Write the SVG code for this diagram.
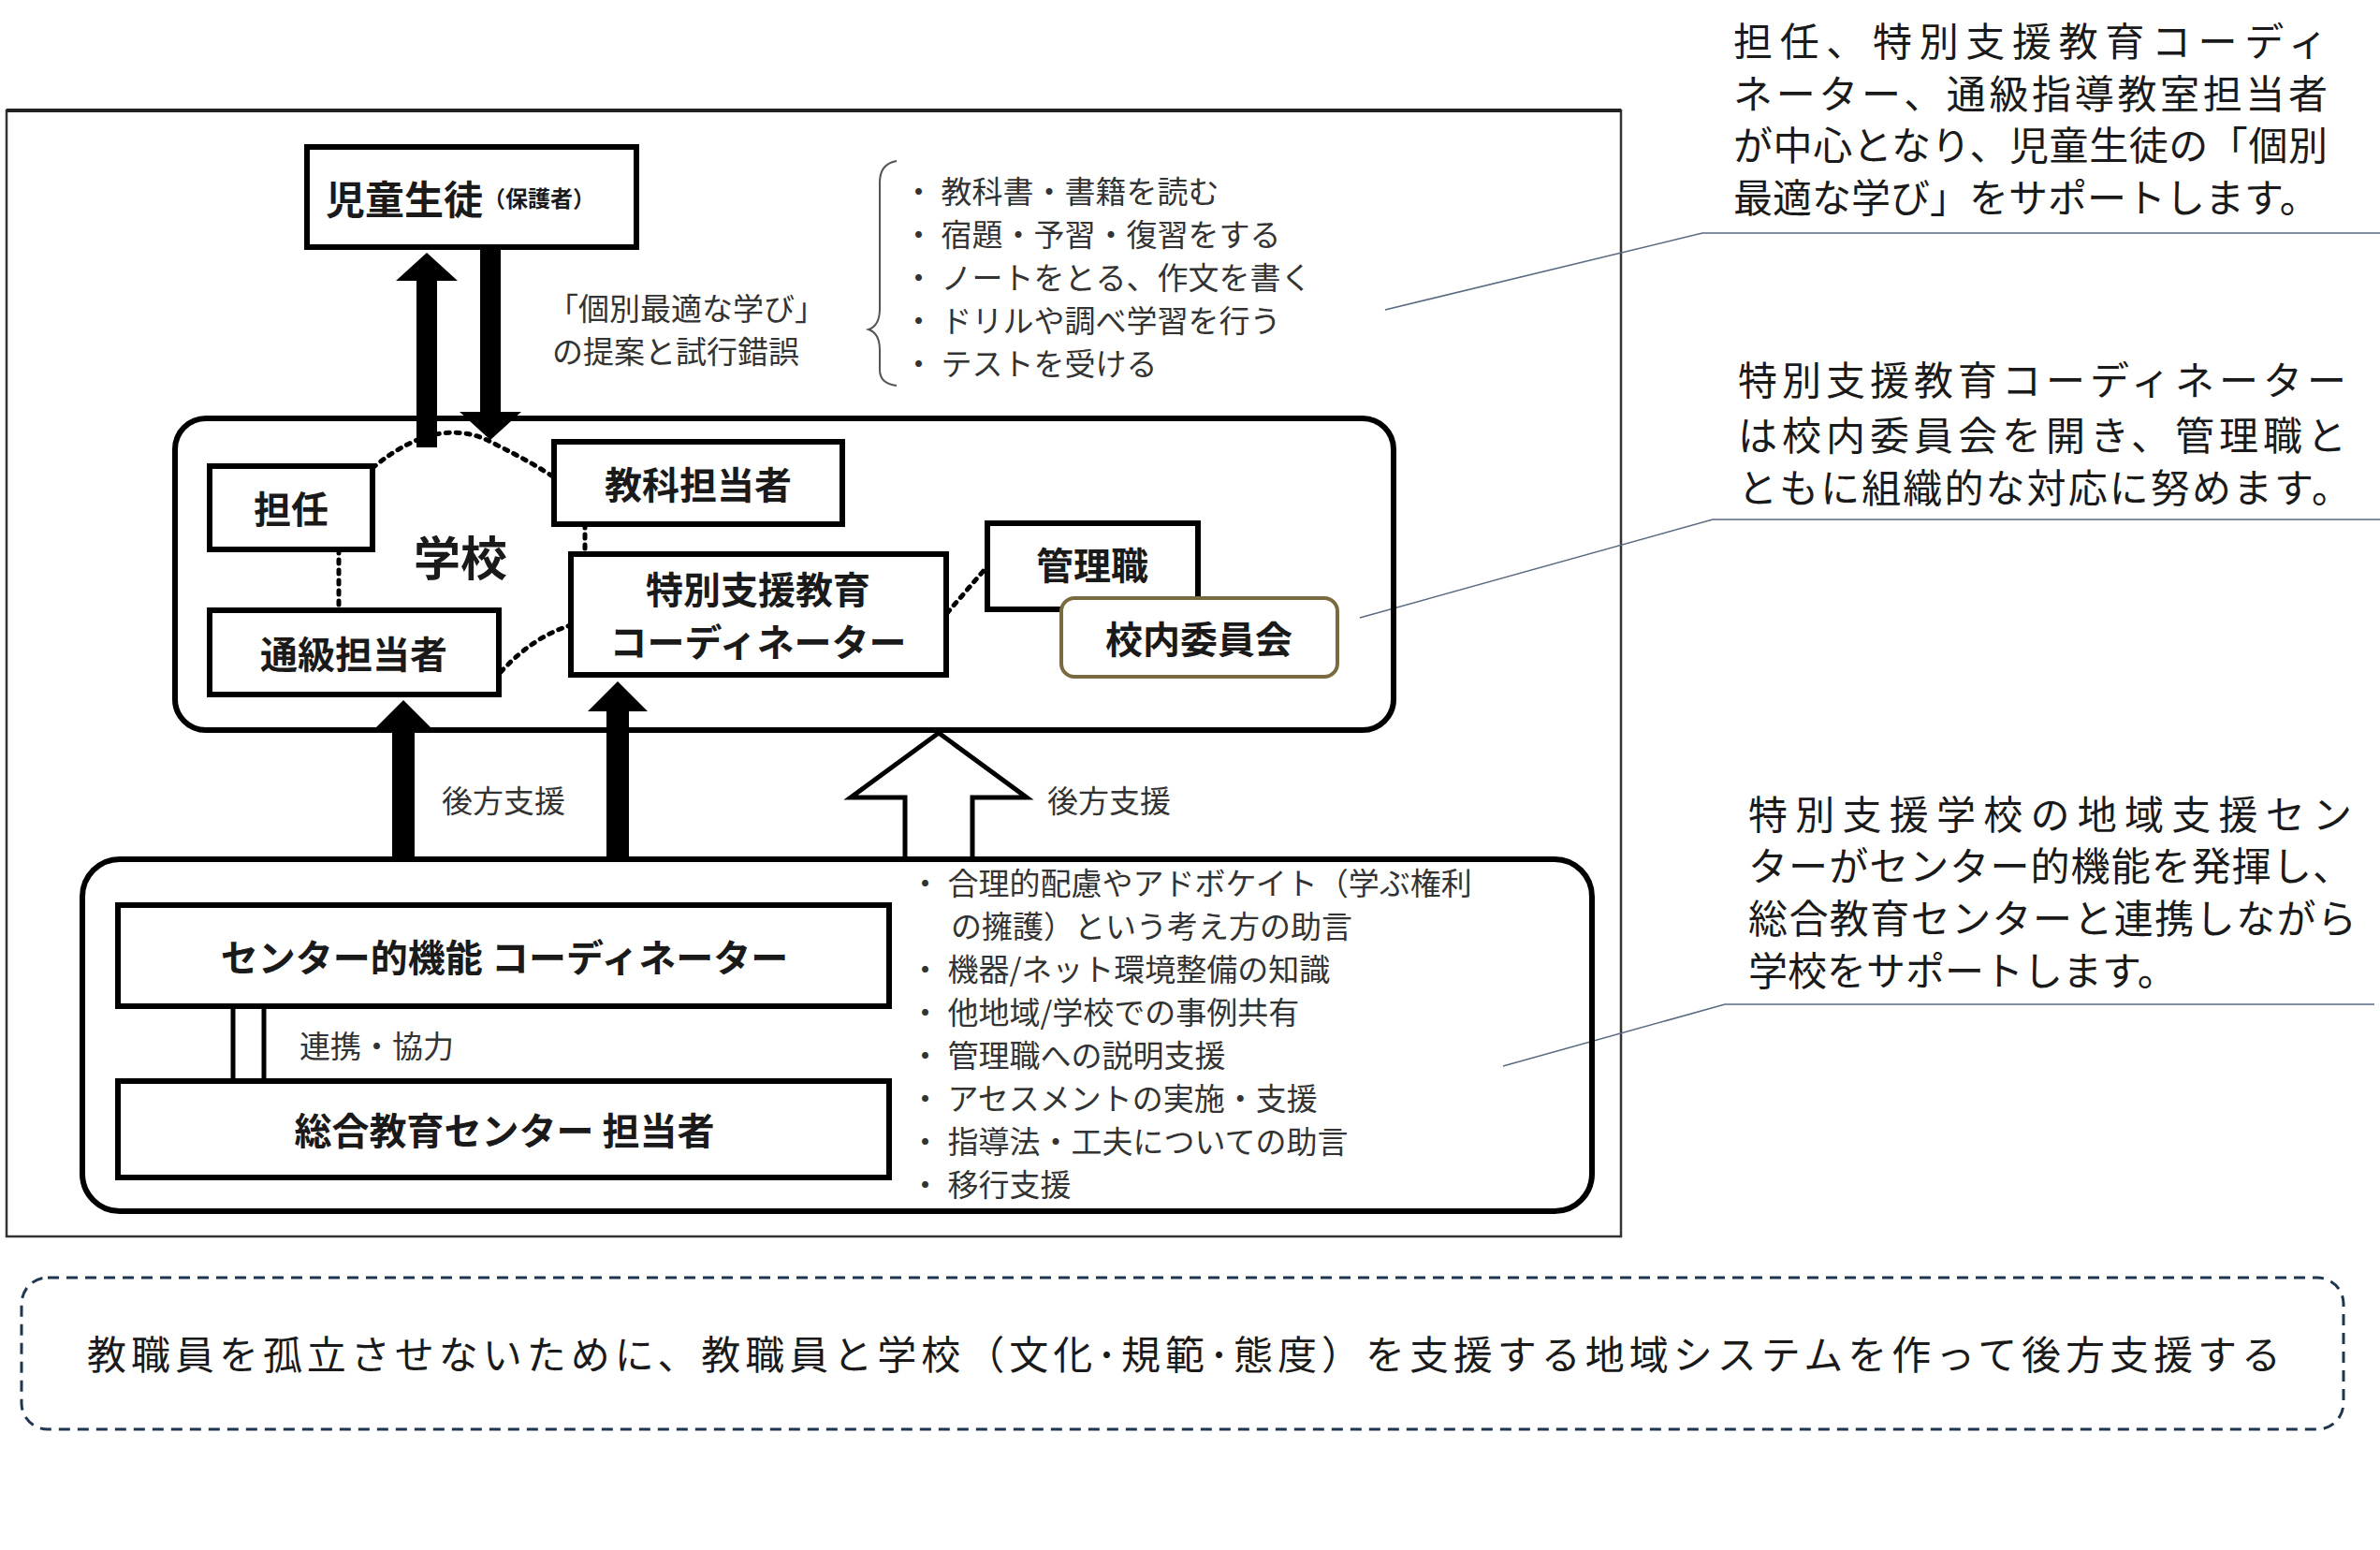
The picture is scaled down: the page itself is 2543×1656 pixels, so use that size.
<svg xmlns="http://www.w3.org/2000/svg" width="2543" height="1656" viewBox="0 0 2543 1656">
<style>
text{font-family:"Noto Sans CJK JP","Noto Sans",sans-serif;fill:#1a1a1a}
.b{stroke:#000;stroke-width:6;fill:#fff}
.bt{font-size:40px;font-weight:bold;text-anchor:middle;dominant-baseline:central}
.g{font-size:33px;fill:#333;dominant-baseline:central}
.a{font-size:42px;dominant-baseline:central}
.dot{stroke:#000;stroke-width:5;fill:none;stroke-dasharray:4 7;stroke-linecap:round}
.lead{stroke:#5a6a80;stroke-width:1.5;fill:none}
</style>
<rect x="0" y="0" width="2543" height="1656" fill="#fff"/>
<rect x="7" y="118" width="1725" height="1203" fill="none" stroke="#333" stroke-width="2.5"/>
<line x1="7" y1="118" x2="1732" y2="118" stroke="#222" stroke-width="4"/>

<g id="connectors">
<path d="M445 478 V300 h-22 l33 -30 l33 30 h-22 V478 Z" fill="#000"/>
<path d="M513 264 V440 h-22 l33 30 l33 -30 h-22 V264 Z" fill="#000"/>
<path class="dot" d="M398 500 Q470 440 530 475 Q570 495 592 510"/>
<path class="dot" d="M362 587 V652"/>
<path class="dot" d="M625 560 V592"/>
<path class="dot" d="M535 718 Q570 680 610 668"/>
<path class="dot" d="M1012 655 L1055 605"/>
<path d="M419 918 V780 h-20 l32 -32 l32 32 h-20 V918 Z" fill="#000"/>
<path d="M648 918 V760 h-20 l32 -32 l32 32 h-20 V918 Z" fill="#000"/>
<path d="M967 918 V852 h-58 l94 -69 l94 69 h-58 V918" fill="#fff" stroke="#000" stroke-width="5"/>
<line x1="249" y1="1075" x2="249" y2="1155" stroke="#000" stroke-width="5"/>
<line x1="282" y1="1075" x2="282" y2="1155" stroke="#000" stroke-width="5"/>
<path class="lead" d="M2551 249 H1819 L1480 331"/>
<path class="lead" d="M2551 555 H1830 L1453 660"/>
<path class="lead" d="M2537 1073 H1843 L1606 1139"/>
</g>

<g id="student"><rect class="b" x="328" y="157" width="352" height="107"/>
<text x="348" y="210" font-size="42" font-weight="bold" dominant-baseline="central">児童生徒<tspan font-size="24">（保護者）</tspan></text></g>

<g id="brace"><path d="M958 172 Q940 175 940 195 V330 Q940 348 928 352 Q940 356 940 374 V395 Q940 410 958 412" fill="none" stroke="#555" stroke-width="2"/></g>
<g id="learn">
<text class="g" x="965" y="203">・ 教科書・書籍を読む</text>
<text class="g" x="965" y="249">・ 宿題・予習・復習をする</text>
<text class="g" x="965" y="295">・ ノートをとる、作文を書く</text>
<text class="g" x="965" y="341">・ ドリルや調べ学習を行う</text>
<text class="g" x="965" y="387">・ テストを受ける</text>
<text class="g" x="585" y="328">「個別最適な学び」</text>
<text class="g" x="590" y="374">の提案と試行錯誤</text>
</g>

<g id="school"><rect x="187" y="447" width="1302" height="333" rx="33" fill="none" stroke="#000" stroke-width="6"/>
<text x="492" y="593" font-size="50" font-weight="bold" text-anchor="middle" dominant-baseline="central">学校</text></g>
<g id="tannin"><rect class="b" x="224" y="498" width="174" height="89"/><text class="bt" x="311" y="542">担任</text></g>
<g id="kyoka"><rect class="b" x="592" y="472" width="308" height="88"/><text class="bt" x="746" y="516">教科担当者</text></g>
<g id="coord"><rect class="b" x="610" y="592" width="401" height="129"/><text class="bt" x="810" y="628" font-size="37">特別支援教育</text><text class="bt" x="810" y="684" font-size="37">コーディネーター</text></g>
<g id="kanri"><rect class="b" x="1055" y="559" width="225" height="92"/><text class="bt" x="1167" y="602">管理職</text></g>
<g id="iinkai"><rect x="1134" y="639" width="295" height="84" rx="14" fill="#fff" stroke="#7a6a40" stroke-width="4"/><text class="bt" x="1281" y="681">校内委員会</text></g>
<g id="tsukyu"><rect class="b" x="224" y="652" width="309" height="90"/><text class="bt" x="378" y="697">通級担当者</text></g>

<text class="g" x="472" y="854">後方支援</text>
<text class="g" x="1119" y="854">後方支援</text>

<g id="center"><rect x="88" y="918" width="1613" height="376" rx="40" fill="none" stroke="#000" stroke-width="6"/></g>
<g id="centerfn"><rect class="b" x="126" y="967" width="824" height="108"/><text class="bt" x="539" y="1021">センター的機能 コーディネーター</text></g>
<g id="sougou"><rect class="b" x="126" y="1155" width="824" height="103"/><text class="bt" x="539" y="1206">総合教育センター 担当者</text></g>
<text class="g" x="320" y="1116">連携・協力</text>
<g id="centerlist">
<text class="g" x="972" y="942">・ 合理的配慮やアドボケイト（学ぶ権利</text>
<text class="g" x="1016" y="988">の擁護）という考え方の助言</text>
<text class="g" x="972" y="1034">・ 機器/ネット環境整備の知識</text>
<text class="g" x="972" y="1080">・ 他地域/学校での事例共有</text>
<text class="g" x="972" y="1126">・ 管理職への説明支援</text>
<text class="g" x="972" y="1172">・ アセスメントの実施・支援</text>
<text class="g" x="972" y="1218">・ 指導法・工夫についての助言</text>
<text class="g" x="972" y="1264">・ 移行支援</text>
</g>

<g id="note1">
<text class="a" x="1852" y="41" textLength="635" lengthAdjust="spacing">担任、特別支援教育コーディ</text>
<text class="a" x="1852" y="97" textLength="635" lengthAdjust="spacing">ネーター、通級指導教室担当者</text>
<text class="a" x="1852" y="152" textLength="635" lengthAdjust="spacing">が中心となり、児童生徒の「個別</text>
<text class="a" x="1852" y="208">最適な学び」をサポートします。</text>
</g>
<g id="note2">
<text class="a" x="1857" y="403" textLength="650" lengthAdjust="spacing">特別支援教育コーディネーター</text>
<text class="a" x="1857" y="462" textLength="650" lengthAdjust="spacing">は校内委員会を開き、管理職と</text>
<text class="a" x="1857" y="518" textLength="655" lengthAdjust="spacing">ともに組織的な対応に努めます。</text>
</g>
<g id="note3">
<text class="a" x="1868" y="867" textLength="645" lengthAdjust="spacing">特別支援学校の地域支援セン</text>
<text class="a" x="1868" y="922" textLength="645" lengthAdjust="spacing">ターがセンター的機能を発揮し、</text>
<text class="a" x="1868" y="978" textLength="650" lengthAdjust="spacing">総合教育センターと連携しながら</text>
<text class="a" x="1868" y="1034">学校をサポートします。</text>
</g>

<g id="summary"><rect x="23" y="1365" width="2481" height="162" rx="28" fill="none" stroke="#1f3550" stroke-width="3" stroke-dasharray="12 8"/>
<text class="a" x="93" y="1444" textLength="2344" lengthAdjust="spacing">教職員を孤立させないために、教職員と学校（文化･規範･態度）を支援する地域システムを作って後方支援する</text></g>
</svg>
